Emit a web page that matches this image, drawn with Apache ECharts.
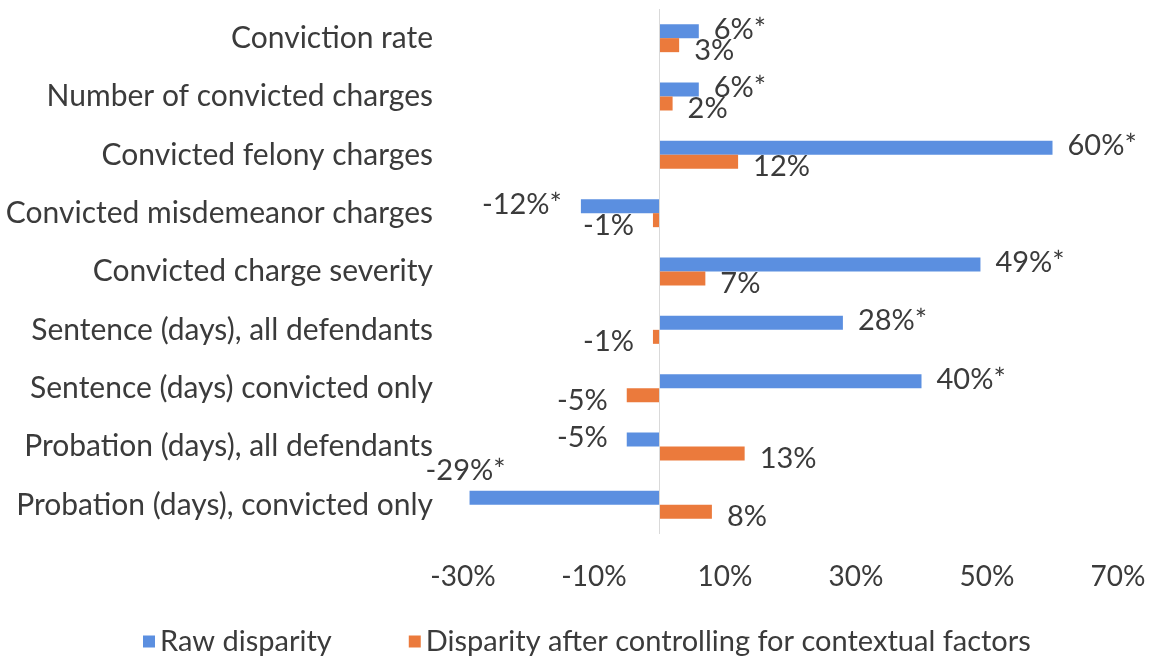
<!DOCTYPE html>
<html>
<head>
<meta charset="utf-8">
<script src="https://cdn.jsdelivr.net/npm/echarts@6/dist/echarts.min.js"></script>
<style>
html,body{margin:0;padding:0;background:#fff;}
#chart{width:1149px;height:658px;}
</style>
</head>
<body>
<div id="chart"></div>
<script>
const categories = [
  "Conviction rate",
  "Number of convicted charges",
  "Convicted felony charges",
  "Convicted misdemeanor charges",
  "Convicted charge severity",
  "Sentence (days), all defendants",
  "Sentence (days) convicted only",
  "Probation (days), all defendants",
  "Probation (days), convicted only"
];
const rawDisparity = [6, 6, 60, -12, 49, 28, 40, -5, -29];
const rawSignificant = [true, true, true, true, true, true, true, false, true];
const controlledDisparity = [3, 2, 12, -1, 7, -1, -5, 13, 8];
const xTickValues = [-30, -10, 10, 30, 50, 70];
const seriesNames = ["Raw disparity", "Disparity after controlling for contextual factors"];

const FONT = "Lato, 'Open Sans', sans-serif";
const TEXT = "#3b3b3b";
const BLUE = "#5b8fe0";
const ORANGE = "#eb7a3c";

function buildData(vals, sig, special) {
  return vals.map((v, i) => {
    const txt = v + "%" + (sig && sig[i] ? "*" : "");
    const item = {
      value: v,
      label: { formatter: txt, position: v < 0 ? "left" : "right", distance: v < 0 ? 19 : 15 }
    };
    if (special && special[i]) Object.assign(item.label, special[i]);
    return item;
  });
}

const chart = echarts.init(document.getElementById("chart"), null, { renderer: "canvas" });
const option = {
  animation: false,
  textStyle: { fontFamily: FONT },
  grid: { left: 463, right: 31, top: 9, bottom: 124, containLabel: false },
  legend: {
    top: 622,
    left: 138,
    itemWidth: 12,
    itemHeight: 12,
    itemGap: 77,
    icon: "rect",
    textStyle: { fontSize: 29, color: TEXT, fontFamily: FONT },
    data: seriesNames
  },
  xAxis: {
    type: "value",
    min: -30,
    max: 70,
    interval: 10,
    axisLine: { show: false },
    axisTick: { show: false },
    splitLine: { show: false },
    axisLabel: {
      margin: 29,
      fontSize: 28,
      color: TEXT,
      fontFamily: FONT,
      formatter: v => (xTickValues.indexOf(v) >= 0 ? v + "%" : "")
    }
  },
  yAxis: {
    type: "category",
    inverse: true,
    data: categories,
    axisLine: { show: false },
    axisTick: { show: false },
    axisLabel: { margin: 30, fontSize: 30, color: TEXT, fontFamily: FONT }
  },
  series: [
    {
      name: seriesNames[0],
      type: "bar",
      barWidth: 14,
      barGap: "0%",
      barCategoryGap: "52%",
      itemStyle: { color: BLUE },
      label: { show: true, fontSize: 29, color: TEXT, fontFamily: FONT, offset: [0, -2] },
      data: buildData(rawDisparity, rawSignificant, { 8: { offset: [55, -27] } }),
      markLine: {
        silent: true,
        symbol: "none",
        label: { show: false },
        lineStyle: { color: "#d9d9d9", width: 1, type: "solid" },
        data: [{ xAxis: 0 }]
      }
    },
    {
      name: seriesNames[1],
      type: "bar",
      barWidth: 14,
      itemStyle: { color: ORANGE },
      label: { show: true, fontSize: 29, color: TEXT, fontFamily: FONT, offset: [0, 5] },
      data: buildData(controlledDisparity, null, null)
    }
  ]
};
chart.setOption(option);
</script>
</body>
</html>
